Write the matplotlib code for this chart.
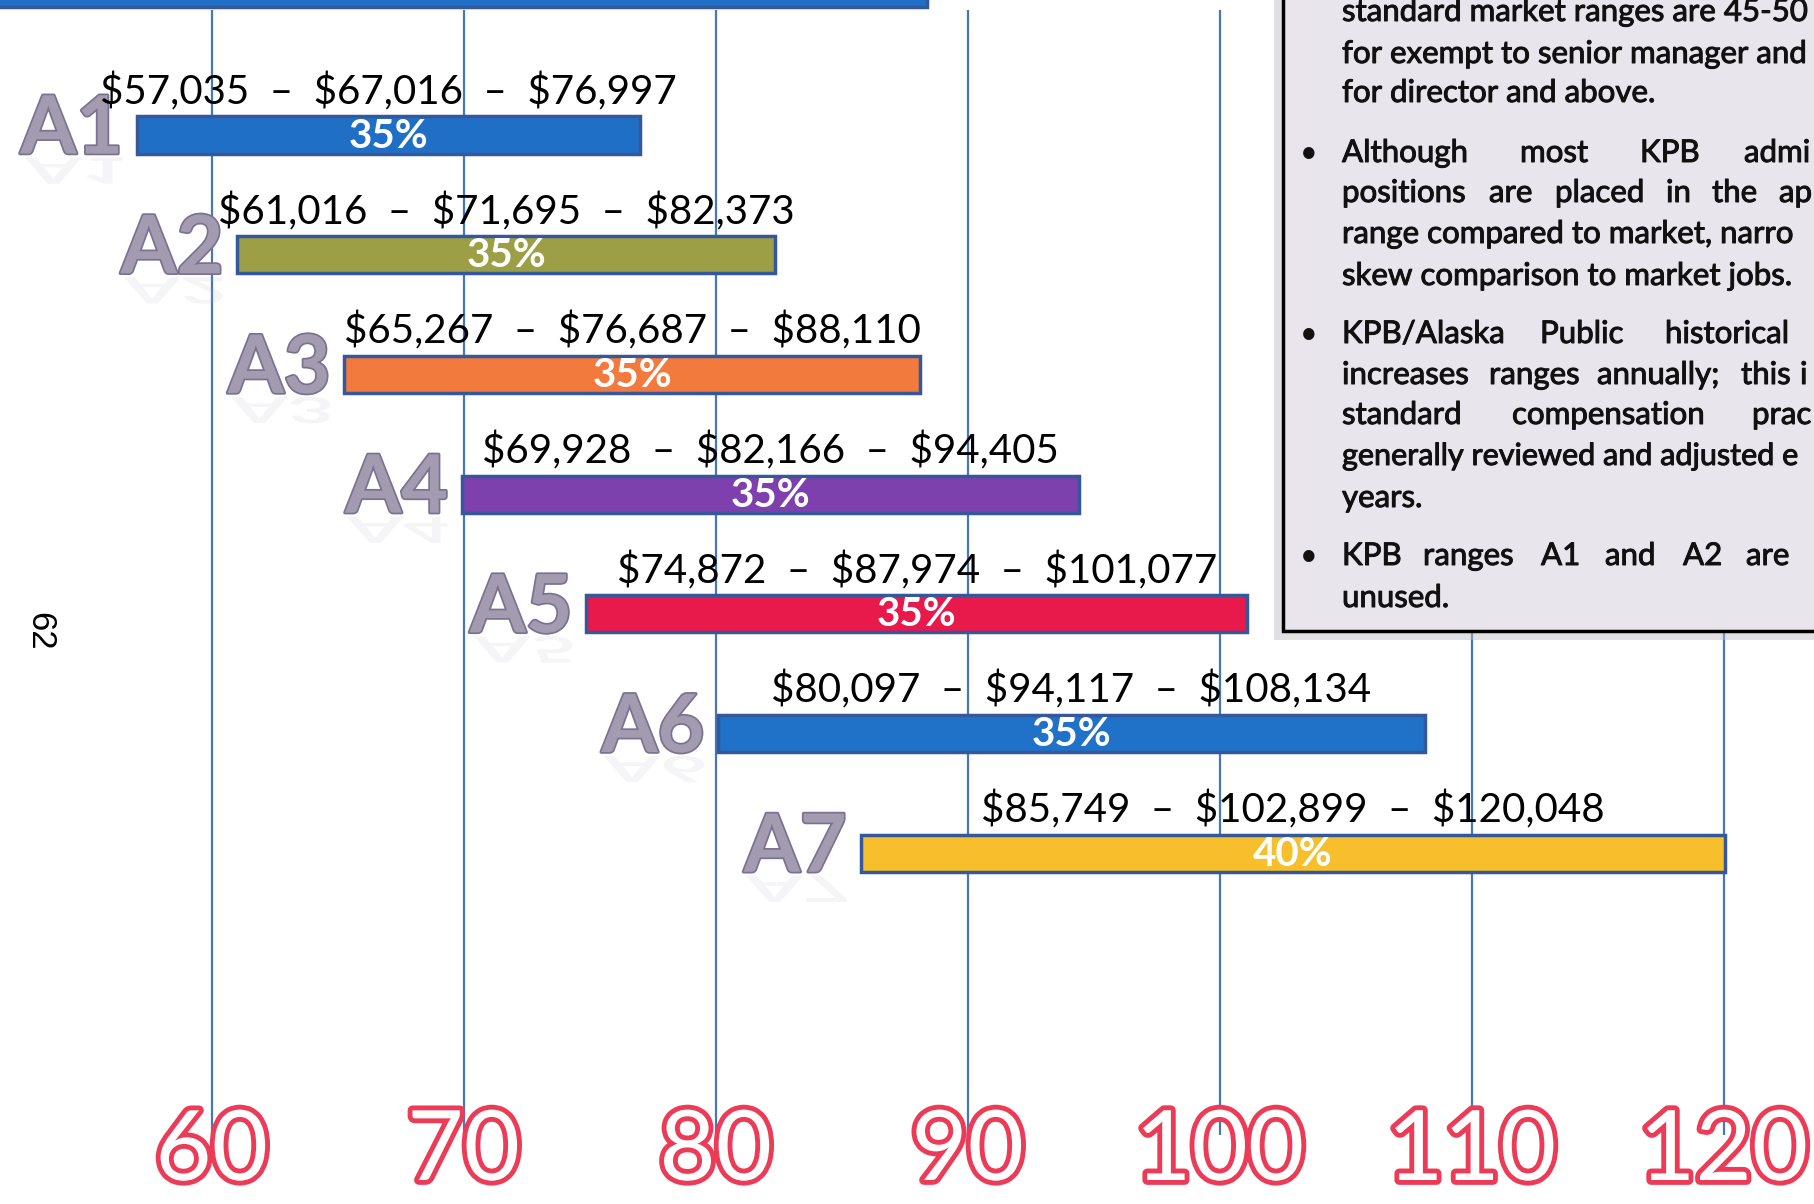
import matplotlib
matplotlib.use('Agg')
import matplotlib.pyplot as plt
import matplotlib.patheffects as pe
from matplotlib.patches import Rectangle, PathPatch
from matplotlib.textpath import TextPath
from matplotlib.font_manager import FontProperties
from matplotlib.transforms import Affine2D

# salary ranges per grade (dollars)
grades = ['A1', 'A2', 'A3', 'A4', 'A5', 'A6', 'A7']
range_min = [57035, 61016, 65267, 69928, 74872, 80097, 85749]
range_mid = [67016, 71695, 76687, 82166, 87974, 94117, 102899]
range_max = [76997, 82373, 88110, 94405, 101077, 108134, 120048]
spread = ['35%', '35%', '35%', '35%', '35%', '35%', '40%']
bar_colors = ['#1f6fc6', '#9c9f45', '#f27a3d', '#7d40ad', '#e8194b', '#1f72c7', '#f6bf2b']
ticks = [60, 70, 80, 90, 100, 110, 120]
top_bar_end = 88400  # row above, cut off by the page

note_lines = [
    'standard market ranges are 45-50',
    'for exempt to senior manager and',
    'for director and above.',
    'Although most KPB admi',
    'positions are placed in the ap',
    'range compared to market, narro',
    'skew comparison to market jobs.',
    'KPB/Alaska Public historical',
    'increases ranges annually; this i',
    'standard compensation prac',
    'generally reviewed and adjusted e',
    'years.',
    'KPB ranges A1 and A2 are',
    'unused.',
]
page_number = '62'

# ---- layout ----
W, H = 1815, 1204
plt.rcParams['font.family'] = ['Lato', 'DejaVu Sans']

fig = plt.figure(figsize=(W / 100, H / 100), dpi=100)
ax = fig.add_axes([0, 0, 1, 1])
ax.axis('off')
px_per_k = 25.2
ax.set_xlim(51.6, 51.6 + W / px_per_k)
row_px, row0 = 119.7, 135
ax.set_ylim((H - row0) / row_px, -row0 / row_px)

def prow(p):
    # pixel row from top -> y data
    return (p - row0) / row_px

# pixel coordinates (origin top-left)
pix = Affine2D().scale(1 / W, -1 / H).translate(0, 1) + fig.transFigure

lo = [v / 1000 for v in range_min]
mid = [v / 1000 for v in range_mid]
hi = [v / 1000 for v in range_max]
ypos = list(range(len(grades)))
bar_h = 0.31

# vertical gridlines
ax.vlines(ticks, prow(10), prow(1135), color='#4677bb', lw=1.6, zorder=1)

# top bar cut off by page edge
ax.barh(prow(-12), top_bar_end / 1000 - 45, left=45, height=bar_h,
        color='#1f6fc6', edgecolor='#35589a', linewidth=2.5, zorder=3)

# range bars
ax.barh(ypos, [h - l for l, h in zip(lo, hi)], left=lo, height=bar_h,
        color=bar_colors, edgecolor='#35589a', linewidth=2.5, zorder=3)

for i, g in enumerate(grades):
    cx = (lo[i] + hi[i]) / 2
    ax.text(cx, i - 0.36,
            f'${range_min[i]:,}  \u2013  ${range_mid[i]:,}  \u2013  ${range_max[i]:,}',
            ha='center', va='center', fontsize=29, color='black', zorder=5)
    ax.text(cx, i + 0.01, spread[i], ha='center', va='center', fontsize=29,
            fontweight='bold', color='white', zorder=5)
    ax.annotate(g, xy=(lo[i], i + bar_h / 2), xytext=(-14, 0),
                textcoords='offset pixels', ha='right', va='baseline',
                fontsize=58, fontweight='bold', color='#a39bb0', zorder=4,
                path_effects=[pe.withStroke(linewidth=2.5, foreground='#7a7290')])
    # faded reflection under the label
    xd, yd = ax.transData.transform((lo[i], i + bar_h / 2))
    tp = TextPath((0, 0), g, size=58, prop=FontProperties(family='Lato', weight='bold'))
    ext = tp.get_extents()
    tr = Affine2D().translate(-ext.x1, 0).scale(100 / 72, -0.45 * 100 / 72).translate(xd - 14, yd - 4)
    fig.patches.append(PathPatch(tp, transform=tr, facecolor='#b0aabb', lw=0, alpha=0.12))

# tick labels, outlined
for t in ticks:
    ax.text(t, prow(1180), str(t), ha='center', va='baseline', fontsize=70,
            color='white', zorder=6,
            path_effects=[pe.withStroke(linewidth=7, foreground='#ec3b57')])

# notes box with shadow
fig.patches.append(Rectangle((1274, -20), 560, 660, transform=pix,
                             facecolor='#bdbbc2', alpha=0.45, lw=0, zorder=7))
fig.patches.append(Rectangle((1283, -20), 560, 651, transform=pix,
                             facecolor='#e8e5ec', edgecolor='black', lw=2.5, zorder=8))

note_y = [12, 54, 93, 153, 193, 234, 276, 334, 375, 415, 456, 498, 556, 598]
word_x = {
    3: [1342, 1520, 1640, 1744],
    4: [1342, 1489, 1555, 1666, 1712, 1779],
    7: [1342, 1540, 1665],
    8: [1342, 1489, 1597, 1741, 1800],
    9: [1342, 1512, 1752],
    12: [1342, 1423, 1541, 1605, 1683, 1746],
}
bullet_rows = [3, 7, 12]
note_fx = [pe.withStroke(linewidth=0.7, foreground='#111111')]
for k, line in enumerate(note_lines):
    if k in word_x:
        for w, x in zip(line.split(' '), word_x[k]):
            fig.text(x, note_y[k], w, transform=pix, va='center', ha='left',
                     fontsize=22.5, color='#111111', zorder=9, path_effects=note_fx)
    else:
        fig.text(1342, note_y[k], line, transform=pix, va='center', ha='left',
                 fontsize=22 if k == 10 else 22.5, color='#111111', zorder=9,
                 path_effects=note_fx)
    if k in bullet_rows:
        fig.text(1300, note_y[k], '\u2022', transform=pix, va='center', ha='left',
                 fontsize=22, color='#111111', zorder=9)

fig.text(40, 631, page_number, transform=pix, rotation=-90, ha='center', va='center',
         fontsize=25, family='Liberation Sans', color='black')

fig.savefig('out.png', dpi=100, facecolor='white')
